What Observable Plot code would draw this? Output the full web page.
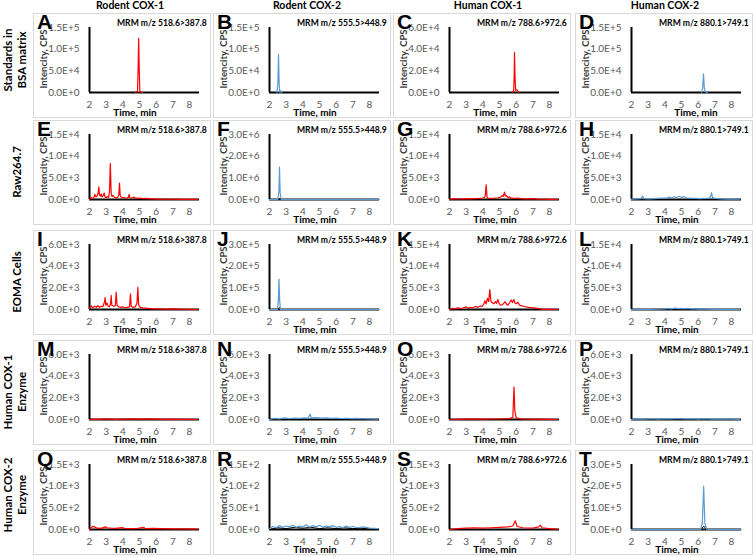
<!DOCTYPE html>
<html><head><meta charset="utf-8">
<script src="https://cdn.jsdelivr.net/npm/d3@7"></script>
<script src="https://cdn.jsdelivr.net/npm/@observablehq/plot@0.6"></script>
<style>
body{margin:0;background:#fff;}
#fig{position:relative;width:753px;height:557px;overflow:hidden;font-family:Lato,"Open Sans",sans-serif;}
.panel{position:absolute;border:1px solid #d9d9d9;box-sizing:border-box;}
.abs{position:absolute;white-space:nowrap;}
.hdr{font-weight:bold;font-size:10.5px;color:#000;transform:translateX(-50%);}
.rowlab{font-weight:bold;font-size:11.5px;color:#000;text-align:center;line-height:14px;transform:translate(-50%,-50%) rotate(-90deg);}
.letter{font-family:"Liberation Sans",Arial,sans-serif;font-weight:bold;font-size:21px;line-height:21px;color:#000;}
.mrm{font-weight:bold;font-size:8.6px;color:#000;}
.ylab{font-weight:bold;font-size:9.5px;color:#3a3a3a;transform:translate(-50%,-50%) rotate(-90deg);}
.xlab{font-weight:bold;font-size:10px;color:#000;transform:translate(-50%,-50%);}
.plotbox{position:absolute;}
</style>
</head><body><div id="fig"></div>
<script>
// ---------- data ----------
const colTitles = ["Rodent COX-1","Rodent COX-2","Human COX-1","Human COX-2"];
const rowTitles = [["Standards in","BSA matrix"],["Raw264.7"],["EOMA Cells"],["Human COX-1","Enzyme"],["Human COX-2","Enzyme"]];
const mrmLabels = ["MRM m/z 518.6>387.8","MRM m/z 555.5>448.9","MRM m/z 788.6>972.6","MRM m/z 880.1>749.1"];
const panelLetters = ["A","B","C","D","E","F","G","H","I","J","K","L","M","N","O","P","Q","R","S","T"];
const xTicks = [2,3,4,5,6,7,8];
const yMaxima = [1.5e5,1.5e5,6e4,1.5e5, 1.5e4,3e6,1.5e4,1.5e4, 6e3,3e5,1.5e4,1.5e4, 6e3,6e3,6e3,6e3, 1.5e3,1.5e2,1.5e3,3e5];
const traceColors = ["#ff0000","#5b9bd5","#ff0000","#5b9bd5"];

// colored traces [time (min), intensity (CPS)]
const traceA = [[4.75,0],[4.82,1500],[4.88,2500],[4.92,60000],[4.95,125000],[4.98,60000],[5.02,3000],[5.1,1500],[5.18,0]];
const traceB = [[2.45,0],[2.5,20000],[2.54,88000],[2.58,20000],[2.62,0],[2.68,4000],[2.74,0]];
const traceC = [[5.75,0],[5.85,1500],[5.88,15000],[5.9,37000],[5.93,15000],[5.97,2000],[6.05,2500],[6.15,0]];
const traceD = [[6.2,0],[6.27,10000],[6.32,43000],[6.37,10000],[6.42,2000],[6.55,0]];
const traceE = [[2,0],[2.05,300],[2.1,500],[2.15,250],[2.25,300],[2.32,1200],[2.38,600],[2.45,800],[2.52,1500],[2.56,2900],[2.6,1000],[2.66,800],[2.7,1300],[2.75,600],[2.82,900],[2.88,1500],[2.93,600],[3.0,400],[3.08,700],[3.15,500],[3.2,1800],[3.25,8300],[3.3,1500],[3.35,700],[3.42,900],[3.5,500],[3.6,400],[3.7,500],[3.76,1200],[3.8,3800],[3.84,900],[3.9,600],[3.98,400],[4.05,500],[4.15,300],[4.25,400],[4.33,500],[4.38,1200],[4.42,400],[4.5,300],[4.6,450],[4.68,550],[4.75,300],[4.85,350],[4.95,250],[5.05,350],[5.2,200],[5.4,250],[5.6,150],[5.8,150],[6.0,100],[6.3,120],[6.5,100],[6.8,60],[7.2,100],[7.6,40],[8.0,30],[8.5,20]];
const traceF = [[2,0],[2.5,0],[2.56,300000],[2.6,1500000],[2.64,300000],[2.7,0],[8.6,0]];
const traceG = [[2,100],[2.3,150],[2.6,120],[2.9,200],[3.2,150],[3.5,200],[3.8,250],[4.0,350],[4.1,500],[4.15,900],[4.2,3400],[4.25,700],[4.3,300],[4.5,250],[4.7,300],[4.9,400],[5.05,500],[5.15,900],[5.22,700],[5.3,1700],[5.35,800],[5.42,900],[5.5,500],[5.6,600],[5.7,300],[5.9,250],[6.1,350],[6.3,200],[6.6,150],[7.0,220],[7.3,100],[7.6,60],[8.0,40],[8.5,30]];
const traceH = [[2,100],[2.3,150],[2.55,200],[2.67,800],[2.75,200],[3.0,150],[3.3,200],[3.6,250],[3.9,300],[4.1,350],[4.25,550],[4.4,400],[4.55,650],[4.7,450],[4.85,700],[5.0,500],[5.15,650],[5.3,400],[5.5,300],[5.8,250],[6.1,200],[6.4,250],[6.65,300],[6.75,700],[6.8,1600],[6.86,500],[7.0,250],[7.4,150],[7.8,100],[8.2,80],[8.5,60]];
const traceI = [[2,100],[2.1,350],[2.18,150],[2.3,300],[2.4,200],[2.5,350],[2.6,200],[2.7,300],[2.8,250],[2.9,700],[2.94,1100],[2.98,400],[3.05,600],[3.12,300],[3.2,250],[3.27,600],[3.3,1300],[3.34,400],[3.45,300],[3.55,350],[3.6,1600],[3.65,400],[3.75,250],[3.9,200],[4.0,250],[4.1,150],[4.25,200],[4.4,250],[4.46,1450],[4.5,300],[4.6,200],[4.75,250],[4.85,600],[4.9,2050],[4.95,400],[5.05,200],[5.2,150],[5.5,100],[5.8,60],[6.2,50],[6.6,40],[7.0,60],[7.5,30],[8.0,20],[8.5,10]];
const traceJ = [[2,0],[2.48,0],[2.53,40000],[2.57,140000],[2.61,40000],[2.66,0],[8.6,0]];
const traceK = [[2,0],[2.2,250],[2.35,150],[2.5,400],[2.65,250],[2.8,350],[3.0,600],[3.1,300],[3.25,450],[3.4,400],[3.55,700],[3.7,500],[3.85,800],[3.95,700],[4.05,1200],[4.12,2000],[4.2,1300],[4.28,2600],[4.35,1800],[4.42,4600],[4.48,2000],[4.55,1600],[4.65,1300],[4.75,1800],[4.82,1400],[4.9,2300],[4.97,1500],[5.05,1000],[5.15,1100],[5.25,1400],[5.35,1800],[5.42,1200],[5.5,1000],[5.6,1500],[5.7,2200],[5.78,1600],[5.86,2300],[5.93,1500],[6.0,1300],[6.1,1700],[6.2,1000],[6.3,900],[6.45,700],[6.6,600],[6.75,500],[6.9,450],[7.05,400],[7.2,300],[7.35,200],[7.5,80],[7.7,20],[8.0,10],[8.5,0]];
const traceL = [[2,0],[3.0,20],[3.6,60],[4.0,120],[4.2,250],[4.4,150],[4.6,300],[4.8,200],[5.0,280],[5.2,180],[5.4,250],[5.6,150],[5.8,200],[6.0,100],[6.4,80],[7.0,40],[8.0,20],[8.5,0]];
const traceM = [[2,0],[2.2,40],[2.6,20],[3.0,50],[3.5,20],[4.0,40],[4.5,60],[5.0,30],[5.5,50],[6.0,30],[6.5,20],[7.0,40],[7.5,20],[8.0,10],[8.5,0]];
const traceN = [[2,0],[2.3,100],[2.6,60],[2.9,150],[3.2,80],[3.5,130],[3.8,100],[4.1,160],[4.3,120],[4.45,500],[4.5,150],[4.8,180],[5.1,120],[5.4,150],[5.7,100],[6.0,130],[6.3,90],[6.6,110],[6.9,80],[7.2,100],[7.6,70],[8.0,60],[8.5,40]];
const traceO = [[2,0],[3.0,30],[4.0,40],[5.0,50],[5.6,80],[5.8,200],[5.87,3000],[5.92,800],[6.0,150],[6.3,60],[7.0,40],[8.0,20],[8.5,0]];
const traceP = [[2,0],[2.4,60],[2.8,30],[3.2,70],[3.6,40],[4.0,80],[4.4,50],[4.8,90],[5.2,50],[5.6,80],[6.0,40],[6.4,70],[6.8,40],[7.2,60],[7.6,30],[8.0,40],[8.5,20]];
const traceQ = [[2,0],[2.1,40],[2.2,75],[2.3,60],[2.45,30],[2.7,25],[2.95,60],[3.05,40],[3.3,30],[3.6,25],[3.95,45],[4.1,25],[4.5,20],[4.9,25],[5.25,50],[5.35,20],[5.8,25],[6.3,20],[7.0,15],[7.8,15],[8.5,10]];
const traceR = [[2,2],[2.2,7],[2.4,4],[2.6,9],[2.8,5],[3.0,8],[3.2,6],[3.4,10],[3.6,5],[3.8,8],[4.0,6],[4.2,11],[4.4,5],[4.6,9],[4.8,6],[5.0,10],[5.2,5],[5.4,8],[5.6,6],[5.8,9],[6.0,5],[6.2,7],[6.4,4],[6.6,8],[6.8,5],[7.0,7],[7.3,4],[7.6,6],[8.0,3],[8.5,2]];
const traceS = [[2,0],[2.5,20],[3.0,30],[3.5,40],[4.0,30],[4.5,40],[5.0,50],[5.5,60],[5.8,80],[5.95,200],[6.05,70],[6.4,40],[7.0,30],[7.35,60],[7.45,100],[7.55,40],[8.0,20],[8.5,10]];
const traceT = [[2,0],[6.15,0],[6.25,30000],[6.33,200000],[6.4,30000],[6.5,2000],[6.6,0],[8.6,0]];

// black (control) traces
const blackF = [[2.55,0],[2.63,60000],[2.72,0]];
const blackJ = [[2.5,0],[2.6,9000],[2.7,0]];
const blackR = [[2.0,0],[2.5,4],[3.0,2],[3.5,5],[4.0,3],[4.5,5],[5.0,2],[5.5,4],[6.0,2],[6.5,4],[7.0,2],[7.5,3],[8.0,1],[8.5,0]];
const blackT = [[6.2,0],[6.3,13000],[6.38,13000],[6.48,0]];

const traces = [traceA,traceB,traceC,traceD,traceE,traceF,traceG,traceH,traceI,traceJ,traceK,traceL,traceM,traceN,traceO,traceP,traceQ,traceR,traceS,traceT];
const blacks = {5:blackF, 9:blackJ, 17:blackR, 19:blackT};

// ---------- layout ----------
const colLeft = [33,213,393,575];
const colWidth = 178;
const rowTop = [13,120,230,340,450];
const rowHeight = 105;
const fig = document.getElementById("fig");

function addDiv(cls, text, left, top, html){
  const d = document.createElement("div");
  d.className = "abs " + cls;
  if (html) d.innerHTML = text; else d.textContent = text;
  d.style.left = left + "px"; d.style.top = top + "px";
  fig.appendChild(d);
  return d;
}
const sci = d => d.toExponential(1).replace("e","E");

// headers
const hdrX = [130,307,488,665];
colTitles.forEach((t,i)=>addDiv("hdr", t, hdrX[i], -1));
// row labels
const rowCY = [60,172,282,392,495];
rowTitles.forEach((lines,i)=>{
  addDiv("rowlab", lines.join("<br>"), lines.length>1 ? 15 : 17, rowCY[i], true);
});

for (let r=0;r<5;r++){
  for (let c=0;c<4;c++){
    const k = r*4+c;
    const L = colLeft[c], T = rowTop[r];
    const box = document.createElement("div");
    box.className = "panel";
    box.style.left = L+"px"; box.style.top = T+"px";
    box.style.width = colWidth+"px"; box.style.height = rowHeight+"px";
    fig.appendChild(box);

    const yMax = yMaxima[k];
    const yt = [0,1,2,3].map(i=>+(yMax*i/3).toPrecision(6));
    const marks = [
      Plot.ruleY([0],{stroke:"#000",strokeWidth:2}),
      Plot.ruleX([2],{y1:0,y2:yMax,stroke:"#000",strokeWidth:2})
    ];
    if (blacks[k]) marks.push(Plot.line(blacks[k],{x:d=>d[0],y:d=>d[1],stroke:"#000",strokeWidth:1}));
    marks.push(Plot.line(traces[k],{x:d=>d[0],y:d=>d[1],stroke:traceColors[c],strokeWidth:1.2}));
    const svg = Plot.plot({
      width: colWidth, height: rowHeight,
      marginLeft:56, marginRight:12, marginTop:14, marginBottom:26,
      x:{domain:[2,8.6], ticks:xTicks, tickSize:0, tickPadding:8, tickFormat:d=>String(d), label:null},
      y:{domain:[0,yMax], ticks:yt, tickSize:0, tickPadding:10, tickFormat:sci, label:null},
      style:{fontFamily:"Lato, 'Open Sans', sans-serif", fontSize:"10px", color:"#595959", background:"transparent", overflow:"visible"},
      marks
    });
    const wrap = document.createElement("div");
    wrap.className = "plotbox";
    wrap.style.left = L+"px"; wrap.style.top = T+"px";
    wrap.appendChild(svg);
    fig.appendChild(wrap);

    addDiv("letter", panelLetters[k], L+4, T-2);
    addDiv("mrm", mrmLabels[c], L+84, T+5);
    addDiv("ylab", "Intencity, CPS", L+10, T+46);
    addDiv("xlab", "Time, min", L + (k===3?121:102), T+99);
  }
}
</script></body></html>
